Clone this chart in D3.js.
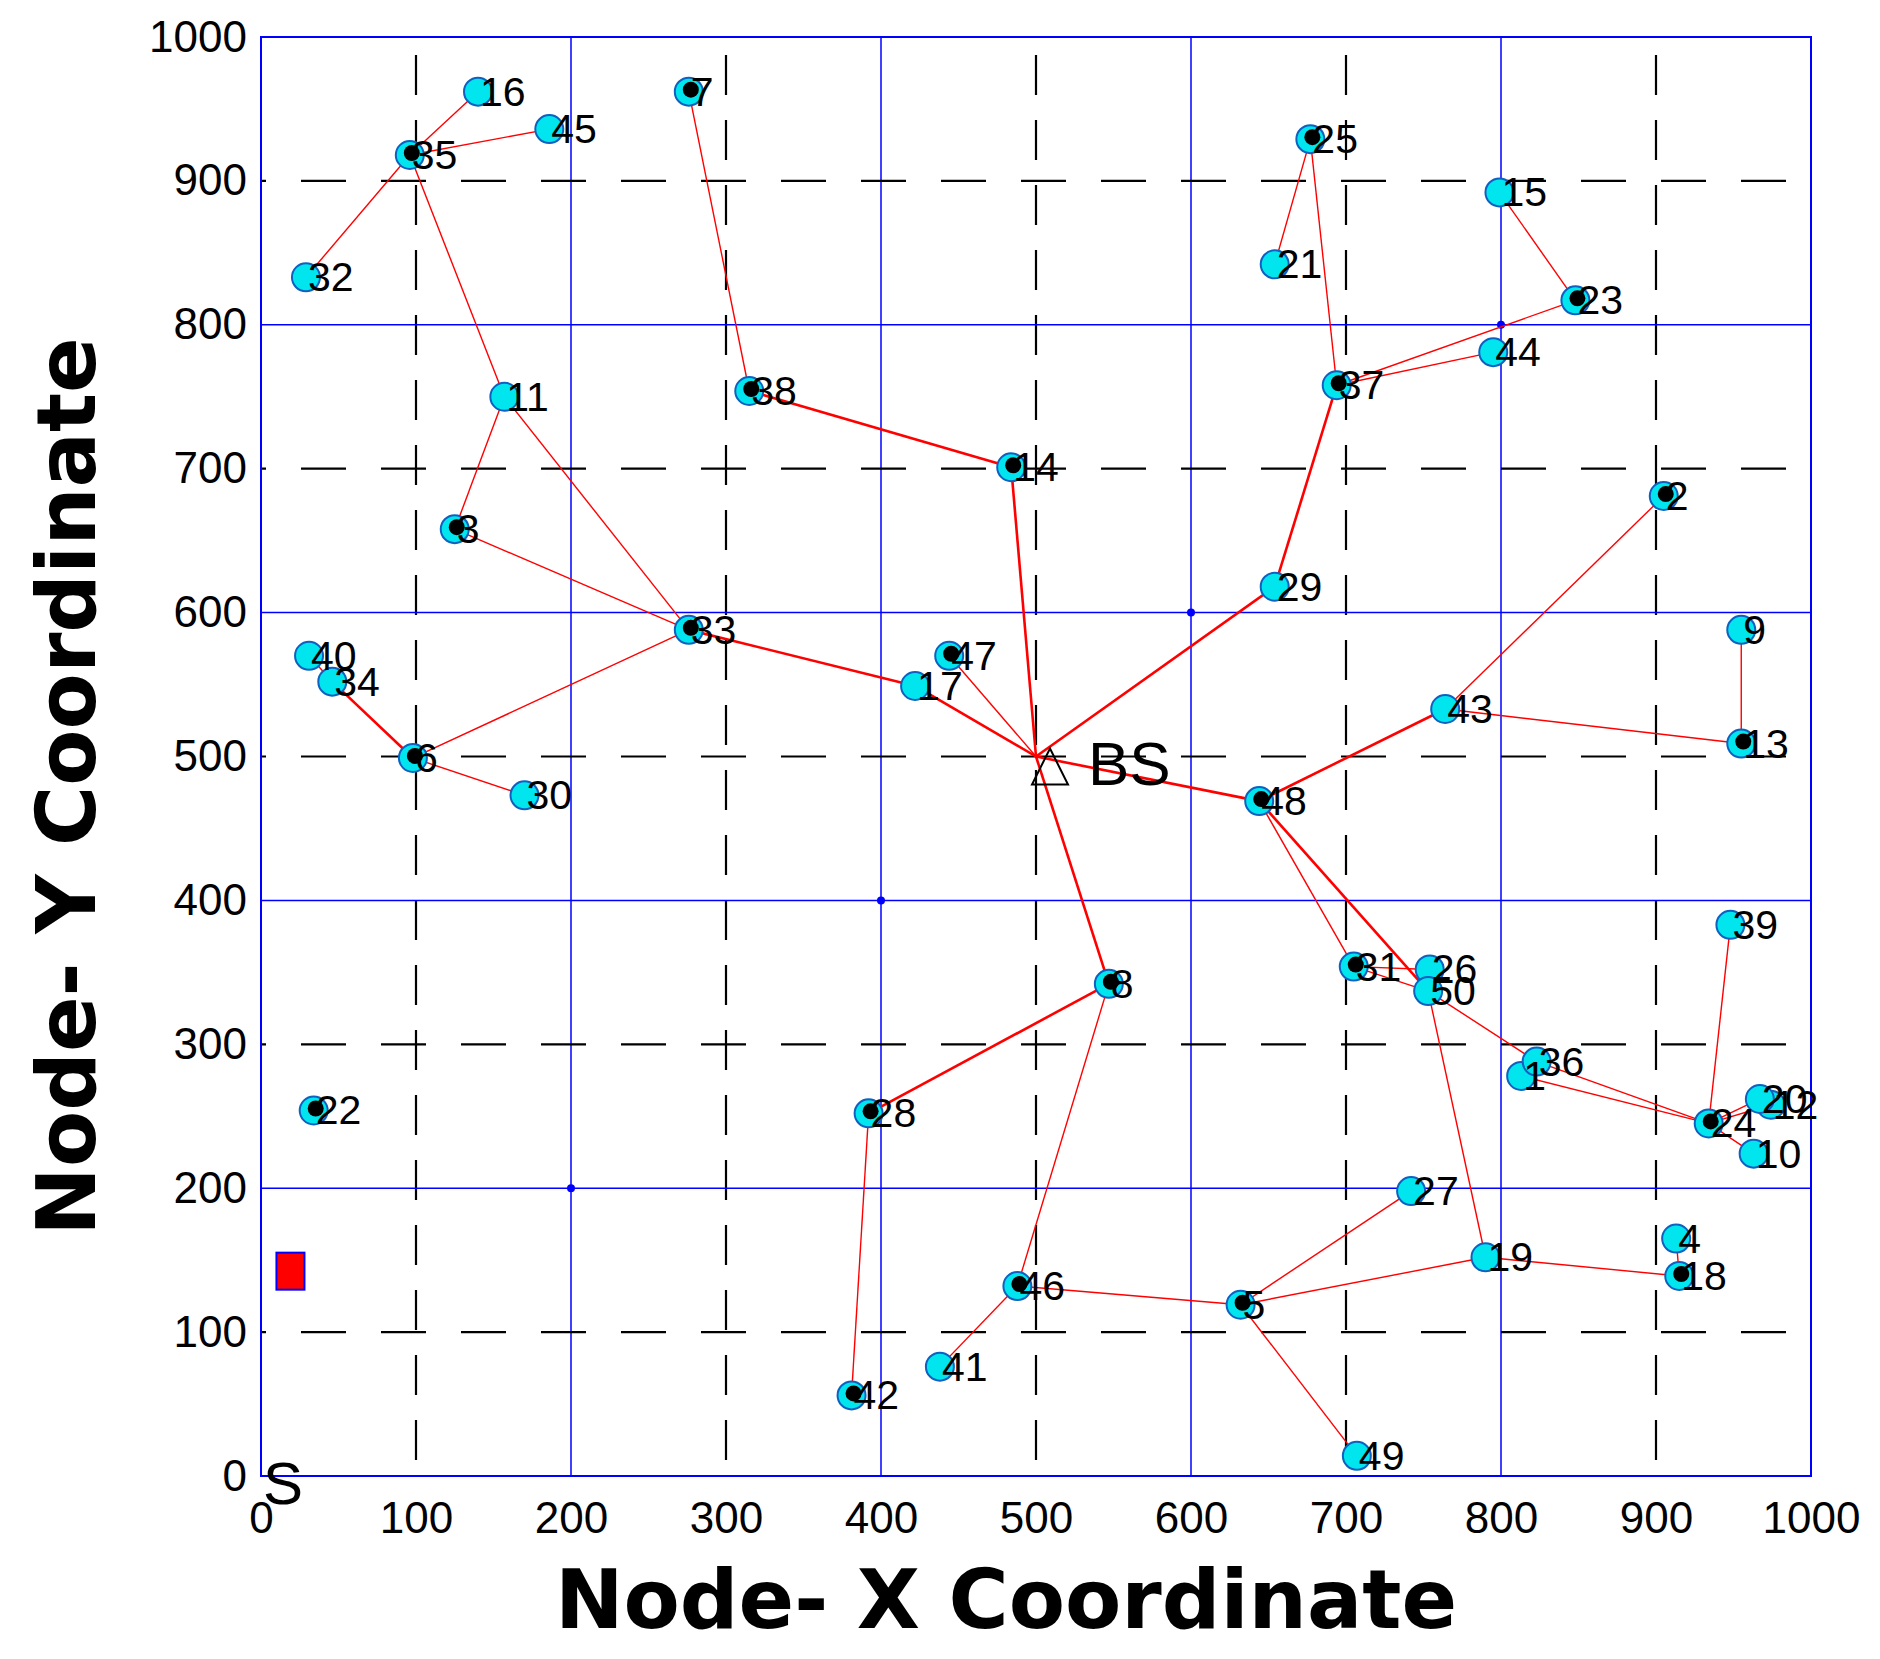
<!DOCTYPE html>
<html><head><meta charset="utf-8">
<script src="https://cdn.jsdelivr.net/npm/d3@7"></script>
<style>body{margin:0;background:#fff}</style></head>
<body><svg id="c" width="1880" height="1659"></svg>
<script>
const nodeIds = [1,2,3,4,5,6,7,8,9,10,11,12,13,14,15,16,17,18,19,20,21,22,23,24,25,26,27,28,29,30,31,32,33,34,35,36,37,38,39,40,41,42,43,44,45,46,47,48,49,50];
const nodeX = [813,905,125,913,632,98,276,547,955,963,157,974,955,484,799,140,422,915,790,967,654,34,848,934,677,754,742,392,654,170,705,29,276,46,96,823,694,315,948,31,438,381,764,795,186,488,444,644,707,753];
const nodeY = [278,681,658,165,119,499,962,342,588,224,750,258,509,701,892,962,549,139,152,262,842,254,817,245,929,352,198,252,618,473,354,833,588,552,918,288,758,754,383,570,76,56,533,781,936,132,570,469,14,337];
const headIds = [35,7,38,3,33,6,47,14,25,37,23,2,13,48,8,31,24,18,46,5,28,42,22];
const bsPos = [500,500];
const sinkPos = [19,142];
const edgeFrom = [35,35,35,35,11,11,3,7,38,14,33,17,47,6,40,34,6,"BS",29,37,25,37,37,23,"BS",48,43,43,13,48,48,31,31,50,50,36,1,20,12,10,39,19,18,19,27,5,5,46,46,"BS",8,28];
const edgeTo   = [16,45,32,11,33,3,33,38,14,"BS",17,"BS","BS",33,34,6,30,29,37,25,21,44,23,15,48,43,2,13,9,31,50,26,50,36,19,24,24,24,24,24,24,18,4,5,5,49,46,41,8,8,28,42];
const edgeThick= [0,0,0,0,0,0,0,0,1,1,1,1,0,0,0,1,0,1,1,0,0,0,0,0,1,1,0,0,0,0,1,0,0,0,0,0,0,0,0,0,0,0,0,0,0,0,0,0,0,1,1,0,0];
const xTicks = [0,100,200,300,400,500,600,700,800,900,1000];
const yTicks = [0,100,200,300,400,500,600,700,800,900,1000];

const svg = d3.select("#c");
const L=261,R=1811,T=37,B=1476;
const x = d3.scaleLinear().domain([0,1000]).range([L,R]);
const y = d3.scaleLinear().domain([0,1000]).range([B,T]);
const font="Liberation Sans, Arial, sans-serif";
const bold="DejaVu Sans, sans-serif";

const g = svg.append("g");
xTicks.filter(v=>v>0&&v<1000).forEach(v=>{
  const blue = v%200===0;
  g.append("line").attr("x1",x(v)).attr("x2",x(v)).attr("y1",T).attr("y2",B)
   .attr("stroke",blue?"#0000ff":"#000").attr("stroke-width",blue?1.5:2.2)
   .attr("stroke-dasharray",blue?null:"40,25").attr("stroke-dashoffset",blue?0:-18);
});
yTicks.filter(v=>v>0&&v<1000).forEach(v=>{
  const blue = v%200===0;
  g.append("line").attr("x1",L).attr("x2",R).attr("y1",y(v)).attr("y2",y(v))
   .attr("stroke",blue?"#0000ff":"#000").attr("stroke-width",blue?1.5:2.2)
   .attr("stroke-dasharray",blue?null:"45,35").attr("stroke-dashoffset",blue?0:-40);
});
[[200,200],[400,400],[600,600],[800,800]].forEach(p=>g.append("circle").attr("cx",x(p[0])).attr("cy",y(p[1])).attr("r",4).attr("fill","#0000ff"));
g.append("rect").attr("x",L).attr("y",T).attr("width",R-L).attr("height",B-T).attr("fill","none").attr("stroke","#0000ff").attr("stroke-width",2);

const fmt = d3.format("d");
const xa = svg.append("g").attr("transform",`translate(0,${B})`).call(d3.axisBottom(x).tickValues(xTicks).tickFormat(fmt).tickSize(0).tickPadding(26));
xa.select(".domain").remove();
xa.selectAll("text").attr("font-family",font).attr("font-size",44).attr("fill","#000");
const ya = svg.append("g").attr("transform",`translate(${L},0)`).call(d3.axisLeft(y).tickValues(yTicks).tickFormat(fmt).tickSize(0).tickPadding(14));
ya.select(".domain").remove();
ya.selectAll("text").attr("font-family",font).attr("font-size",44).attr("fill","#000");

svg.append("text").attr("x",(L+R)/2-30).attr("y",1628).attr("text-anchor","middle")
  .attr("font-family",bold).attr("font-weight","bold").attr("font-size",82).text("Node- X Coordinate");
svg.append("text").attr("transform",`translate(95,${(T+B)/2+30}) rotate(-90)`).attr("text-anchor","middle")
  .attr("font-family",bold).attr("font-weight","bold").attr("font-size",82).text("Node- Y Coordinate");

const pos = id => id==="BS"? bsPos : [nodeX[nodeIds.indexOf(id)], nodeY[nodeIds.indexOf(id)]];

edgeFrom.forEach((f,i)=>{
  const a=pos(f), b=pos(edgeTo[i]);
  svg.append("line").attr("x1",x(a[0])).attr("y1",y(a[1])).attr("x2",x(b[0])).attr("y2",y(b[1]))
    .attr("stroke","#ff0000").attr("stroke-width",edgeThick[i]?2.6:1.4);
});

nodeIds.forEach((id,i)=>{
  const cx=x(nodeX[i]), cy=y(nodeY[i]);
  svg.append("circle").attr("cx",cx).attr("cy",cy).attr("r",14).attr("fill","#00e5ee").attr("stroke","#1060c0").attr("stroke-width",2);
  if(headIds.includes(id)) svg.append("circle").attr("cx",cx+2).attr("cy",cy-2).attr("r",8).attr("fill","#000");
});
nodeIds.forEach((id,i)=>{
  svg.append("text").attr("x",x(nodeX[i])+2).attr("y",y(nodeY[i])+14)
    .attr("font-family",font).attr("font-size",41).attr("fill","#000").text(id);
});

const bx=x(bsPos[0]), by=y(bsPos[1]);
svg.append("path").attr("d",`M${bx+14},${by-8} L${bx+32},${by+28} L${bx-4},${by+28} Z`).attr("fill","none").attr("stroke","#000").attr("stroke-width",2);
svg.append("text").attr("x",bx+52).attr("y",by+28).attr("font-family",font).attr("font-size",62).text("BS");

svg.append("rect").attr("x",x(sinkPos[0])-14).attr("y",y(sinkPos[1])-19).attr("width",28).attr("height",37).attr("fill","#ff0000").attr("stroke","#0000ff").attr("stroke-width",2);
svg.append("text").attr("x",x(0)+2).attr("y",B+28).attr("font-family",font).attr("font-size",60).text("S");
</script></body></html>
